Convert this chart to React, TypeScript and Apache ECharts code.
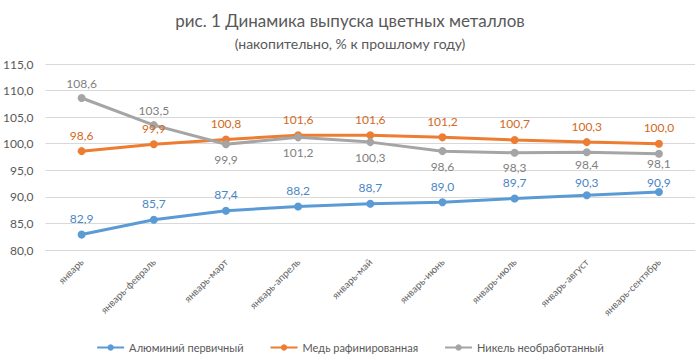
import React, { useEffect, useRef } from "react";
import * as echarts from "echarts";

const categories = [
  "январь",
  "январь-февраль",
  "январь-март",
  "январь-апрель",
  "январь-май",
  "январь-июнь",
  "январь-июль",
  "январь-август",
  "январь-сентябрь",
];
const aluminium = [82.9, 85.7, 87.4, 88.2, 88.7, 89.0, 89.7, 90.3, 90.9];
const copper = [98.6, 99.9, 100.8, 101.6, 101.6, 101.2, 100.7, 100.3, 100.0];
const nickel = [108.6, 103.5, 99.9, 101.2, 100.3, 98.6, 98.3, 98.4, 98.1];
const seriesNames = ["Алюминий первичный", "Медь рафинированная", "Никель необработанный"];
const titleText = "рис. 1 Динамика выпуска цветных металлов";
const subtitleText = "(накопительно, % к прошлому году)";

const FONT = "Lato, 'Open Sans', sans-serif";
const fmt = (v: number) => v.toFixed(1).replace(".", ",");

export default function App() {
  const ref = useRef<HTMLDivElement>(null);
  useEffect(() => {
    document.body.style.margin = "0";
    if (!ref.current) return;
    const chart = echarts.init(ref.current, null, { renderer: "svg" });
    const mk = (
      name: string,
      data: number[],
      color: string,
      labelColor: string,
      below: (i: number) => boolean,
      dist: (i: number) => number
    ) => ({
      name,
      type: "line",
      data: data.map((v, i) => ({
        value: v,
        label: { position: below(i) ? "bottom" : "top", distance: dist(i) },
      })),
      symbol: "circle",
      symbolSize: 8,
      lineStyle: { width: 3, color },
      itemStyle: { color },
      label: {
        show: true,
        color: labelColor,
        fontSize: 12,
        fontFamily: FONT,
        formatter: (p: any) => fmt(p.value),
      },
    });
    chart.setOption({
      animation: false,
      backgroundColor: "#ffffff",
      title: [
        {
          text: titleText,
          left: "center",
          top: 7,
          textStyle: { fontSize: 17, fontWeight: "normal", color: "#595959", fontFamily: FONT },
        },
        {
          text: subtitleText,
          left: "center",
          top: 31,
          textStyle: { fontSize: 14, fontWeight: "normal", color: "#595959", fontFamily: FONT },
        },
      ],
      legend: {
        bottom: 4,
        left: "center",
        itemGap: 26,
        itemWidth: 27,
        itemHeight: 8,
        textStyle: { fontSize: 11, color: "#595959", fontFamily: FONT },
        data: seriesNames,
      },
      grid: { left: 44, right: 5, top: 64, bottom: 112 },
      xAxis: {
        type: "category",
        data: categories,
        boundaryGap: true,
        axisLine: { lineStyle: { color: "#d9d9d9" } },
        axisTick: { show: false },
        axisLabel: { rotate: 45, fontSize: 10, color: "#666666", fontFamily: FONT, margin: 10, interval: 0 },
      },
      yAxis: {
        type: "value",
        min: 80,
        max: 115,
        interval: 5,
        axisLine: { show: false },
        axisTick: { show: false },
        splitLine: { lineStyle: { color: "#d9d9d9", width: 1 } },
        axisLabel: { fontSize: 12, color: "#595959", fontFamily: FONT, margin: 12, formatter: (v: number) => fmt(v) },
      },
      series: [
        mk(seriesNames[0], aluminium, "#5B9BD5", "#4A86C5", () => false, (i) => (i === 8 ? 0 : i === 7 ? 3 : 6)),
        mk(seriesNames[1], copper, "#ED7D31", "#D2691E", () => false, () => 6),
        mk(seriesNames[2], nickel, "#A5A5A5", "#7F7F7F", (i) => i >= 2, (i) => (i === 8 ? 0 : i === 7 ? 2 : 5)),
      ],
    });
    return () => chart.dispose();
  }, []);
  return <div ref={ref} style={{ width: 700, height: 362 }} />;
}
